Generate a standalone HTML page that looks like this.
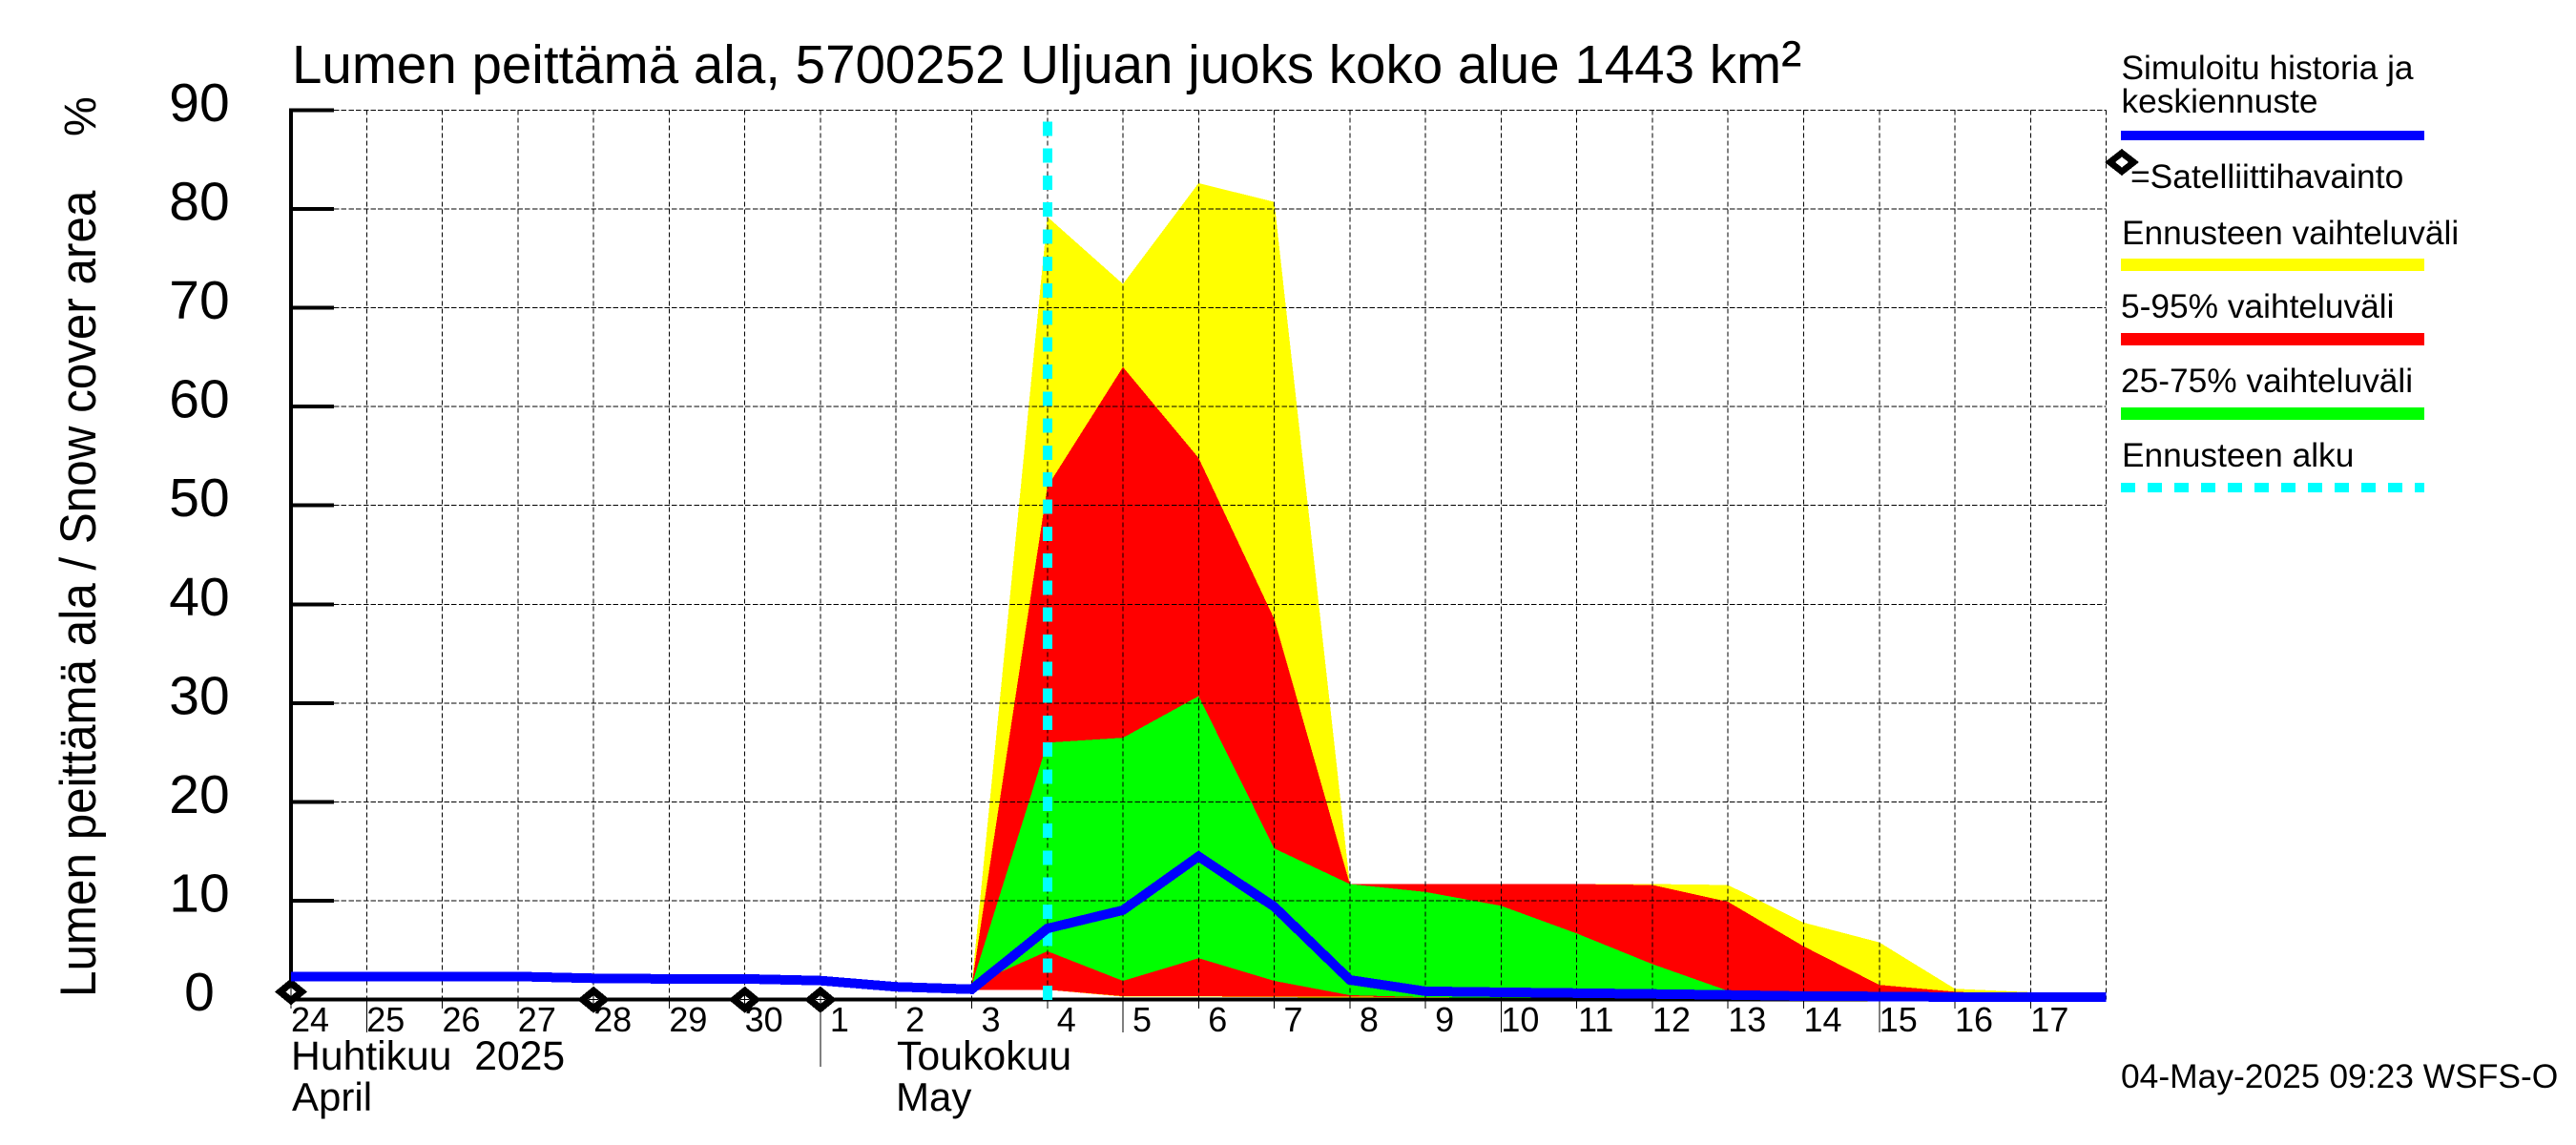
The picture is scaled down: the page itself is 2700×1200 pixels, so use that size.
<!DOCTYPE html>
<html lang="fi">
<head>
<meta charset="utf-8">
<title>Lumen peittämä ala</title>
<style>
html,body{margin:0;padding:0;background:#fff;}
svg{display:block;}
text{font-family:"Liberation Sans",sans-serif;fill:#000;}
</style>
</head>
<body>
<svg id="chart" xmlns="http://www.w3.org/2000/svg" width="2700" height="1200" viewBox="0 0 2700 1200">
  <rect x="0" y="0" width="2700" height="1200" fill="#ffffff"/>
  <g id="bands" shape-rendering="crispEdges"></g>
  <g id="grid" shape-rendering="crispEdges"></g>
  <g id="axes" shape-rendering="crispEdges"></g>
  <g id="start" shape-rendering="crispEdges"></g>
  <g id="markers" shape-rendering="crispEdges"></g>
  <g id="series" shape-rendering="crispEdges"></g>
  <g id="ticklabels"></g>

  <text x="306" y="87" font-size="56.5">Lumen peittämä ala, 5700252 Uljuan juoks koko alue 1443 km<tspan font-size="64">²</tspan></text>
  <text transform="translate(100,1045) rotate(-90) scale(1.008,1.08)" font-size="49">Lumen peittämä ala / Snow cover area</text>
  <text transform="translate(100,143) rotate(-90)" font-size="47">%</text>

  <text x="305" y="1121" font-size="42.7" xml:space="preserve">Huhtikuu  2025</text>
  <text x="306" y="1164" font-size="42">April</text>
  <text x="940" y="1121" font-size="42.8">Toukokuu</text>
  <text x="939" y="1164" font-size="42">May</text>

  <g>
    <text x="2223.5" y="83" font-size="35.3">Simuloitu historia ja</text>
    <text x="2223.5" y="118" font-size="35.3">keskiennuste</text>
    <rect x="2223" y="137" width="318" height="10" fill="#0000ff"/>
    <path fill-rule="evenodd" shape-rendering="crispEdges" d="M2206 170 L2224 156 L2242 170 L2224 184 Z M2217 170 L2224 175.5 L2231 170 L2224 164.5 Z" fill="#000"/>
    <text x="2233" y="197" font-size="35.4">=Satelliittihavainto</text>
    <text x="2224" y="256" font-size="35.3">Ennusteen vaihteluväli</text>
    <rect x="2223" y="271" width="318" height="13" fill="#ffff00"/>
    <text x="2223" y="333" font-size="35.3">5-95% vaihteluväli</text>
    <rect x="2223" y="349" width="318" height="13" fill="#ff0000"/>
    <text x="2223" y="411" font-size="35.3">25-75% vaihteluväli</text>
    <rect x="2223" y="427" width="318" height="13" fill="#00ff00"/>
    <text x="2224" y="489" font-size="35.3">Ennusteen alku</text>
    <line x1="2223" y1="511" x2="2541" y2="511" stroke="#00ffff" stroke-width="10" stroke-dasharray="15 13" shape-rendering="crispEdges"/>
  </g>

  <text x="2223" y="1140" font-size="35.4">04-May-2025 09:23 WSFS-O</text>
</svg>
<script>
// Chart data
const dayLabels = ["24","25","26","27","28","29","30","1","2","3","4","5","6","7","8","9","10","11","12","13","14","15","16","17"];
const longTickDays = ["25","5","10","15"];
const monthStartDays = ["1"];
const yTickLabels = [0,10,20,30,40,50,60,70,80,90];
const medianValues = [2.35,2.35,2.35,2.35,2.16,2.1,2.1,1.93,1.3,1.05,7.2,9.05,14.5,9.4,2.0,0.85,0.75,0.67,0.58,0.48,0.36,0.33,0.26,0.26,0.26];
const forecastStartIndex = 9;
const yellowUpper = [1.5,79.2,72.4,82.6,80.7,11.7,11.7,11.7,11.7,11.7,11.6,7.8,5.8,1.1,0.75,0.3];
const yellowLower = [1.0,1.0,0.3,0.3,0.25,0.2,0.2,0.15,0.1,0.1,0.1,0.1,0.1,0.1,0.1,0.1];
const redUpper = [1.5,51.9,64.0,54.8,38.5,11.7,11.7,11.7,11.7,11.6,9.9,5.4,1.5,0.8,0.5,0.2];
const redLower = [1.0,1.0,0.35,0.35,0.3,0.3,0.25,0.2,0.15,0.1,0.1,0.1,0.1,0.1,0.1,0.1];
const greenUpper = [1.5,26.0,26.5,30.7,15.3,11.7,10.9,9.5,6.7,3.6,0.9,0.6,0.4,0.3,0.25,0.2];
const greenLower = [1.5,4.9,1.9,4.2,1.9,0.45,0.25,0.2,0.15,0.1,0.1,0.1,0.1,0.1,0.1,0.1];
const satelliteDayIndex = [0,4,6,7];
const satelliteValues = [0.8,0,0,0];
const forecastStartDay = 10;
const yMax = 90;
const xSpan = 24;

// Axis functions
const plotLeft = 305, plotRight = 2207.6, plotBottom = 1047.7, plotTop = 115.3;
function xScale(i){ return plotLeft + i * (plotRight - plotLeft) / xSpan; }
function yScale(v){ return plotBottom - v * (plotBottom - plotTop) / yMax; }

const NS = "http://www.w3.org/2000/svg";
function mk(parentId, tag, attrs){
  const el = document.createElementNS(NS, tag);
  for (const k in attrs) el.setAttribute(k, attrs[k]);
  document.getElementById(parentId).appendChild(el);
  return el;
}

function bandPoints(upper, lower){
  const pts = [];
  upper.forEach(function(v, j){ pts.push(xScale(forecastStartIndex + j).toFixed(1) + "," + yScale(v).toFixed(1)); });
  for (let j = lower.length - 1; j >= 0; j--) pts.push(xScale(forecastStartIndex + j).toFixed(1) + "," + yScale(lower[j]).toFixed(1));
  return pts.join(" ");
}

// Bands
const yellowBand = mk("bands", "polygon", {points: bandPoints(yellowUpper, yellowLower), fill: "#ffff00"});


const redBand = mk("bands", "polygon", {points: bandPoints(redUpper, redLower), fill: "#ff0000"});


const greenBand = mk("bands", "polygon", {points: bandPoints(greenUpper, greenLower), fill: "#00ff00"});



// Horizontal grid lines and y ticks
yTickLabels.forEach(function(v){
  const y = yScale(v);
  if (v > 0) {
    const g = mk("grid", "line", {x1: plotLeft + 45, y1: y, x2: plotRight, y2: y, stroke: "#000", "stroke-width": 1, "stroke-dasharray": "5.5 2.2"});
    
    
    const t = mk("axes", "rect", {x: plotLeft - 1, y: y - 2, width: 46, height: 4, fill: "#000"});
    
    
  }
  const label = mk("ticklabels", "text", {x: 209, y: y + 11.5, "font-size": 57, "text-anchor": "middle"});
  label.textContent = String(v);
  
  
});

// Vertical grid lines
for (let i = 1; i <= xSpan; i++) {
  const v = mk("grid", "line", {x1: xScale(i), y1: plotTop, x2: xScale(i), y2: plotBottom, stroke: "#000", "stroke-width": 1, "stroke-dasharray": "5 3"});
  
  
}

// Axis lines
const yAxis = mk("axes", "rect", {x: plotLeft - 2, y: plotTop - 2, width: 4, height: plotBottom - plotTop + 4, fill: "#000"});


const xAxis = mk("axes", "rect", {x: plotLeft, y: plotBottom - 2, width: plotRight - plotLeft, height: 4, fill: "#000"});



// X ticks and labels
dayLabels.forEach(function(d, i){
  const x = xScale(i);
  let bottom = 1057;
  if (longTickDays.indexOf(d) >= 0) bottom = 1082;
  if (monthStartDays.indexOf(d) >= 0) bottom = 1118;
  const t = mk("axes", "line", {x1: x, y1: plotBottom, x2: x, y2: bottom, stroke: "#000", "stroke-width": 1});
  
  
  const label = mk("ticklabels", "text", {x: x + 20, y: 1081, "font-size": 36, "text-anchor": "middle"});
  label.textContent = d;
  
  
});

// Forecast start line
const startLine = mk("start", "line", {x1: xScale(forecastStartDay), y1: 127.3, x2: xScale(forecastStartDay), y2: 1048, stroke: "#00ffff", "stroke-width": 10, "stroke-dasharray": "15 13.3"});



// Satellite markers
satelliteDayIndex.forEach(function(idx, n){
  const cx = xScale(idx), cy = yScale(satelliteValues[n]);
  const outer = mk("markers", "polygon", {points: (cx-17)+","+cy+" "+cx+","+(cy-14)+" "+(cx+17)+","+cy+" "+cx+","+(cy+14), fill: "#000"});
  
  
  const inner = mk("markers", "polygon", {points: (cx-5.5)+","+cy+" "+cx+","+(cy-4.5)+" "+(cx+5.5)+","+cy+" "+cx+","+(cy+4.5), fill: "#fff"});
  
  
  const vert = mk("markers", "line", {x1: cx, y1: cy-4.5, x2: cx, y2: cy+4.5, stroke: "#000", "stroke-width": 1});
  
  
  if (satelliteValues[n] === 0) {
    const horiz = mk("markers", "line", {x1: cx-5, y1: cy, x2: cx+5, y2: cy, stroke: "#000", "stroke-width": 1});
    
    
  }
});

// Median line
const medianLine = mk("series", "polyline", {
  points: medianValues.map(function(v, i){ return xScale(i).toFixed(1) + "," + yScale(v).toFixed(1); }).join(" "),
  fill: "none", stroke: "#0000ff", "stroke-width": 10, "stroke-linejoin": "miter", "stroke-linecap": "butt"
});


</script>
</body>
</html>
